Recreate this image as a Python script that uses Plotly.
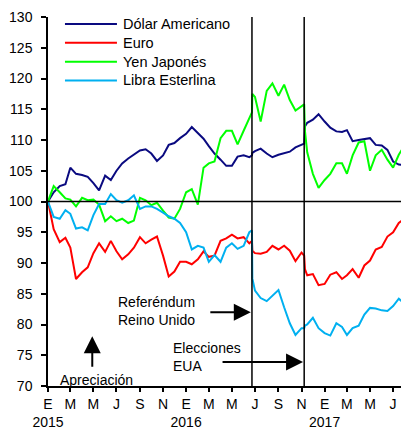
import plotly.graph_objects as go

# semi-monthly readings, plus the days around the two events
dates = [
    "2015-01-01", "2015-01-16", "2015-02-01", "2015-02-16", "2015-03-01", "2015-03-16",
    "2015-04-01", "2015-04-16", "2015-05-01", "2015-05-16", "2015-06-01", "2015-06-16",
    "2015-07-01", "2015-07-16", "2015-08-01", "2015-08-16", "2015-09-01", "2015-09-16",
    "2015-10-01", "2015-10-16", "2015-11-01", "2015-11-16", "2015-12-01", "2015-12-16",
    "2016-01-01", "2016-01-16", "2016-02-01", "2016-02-16", "2016-03-01", "2016-03-16",
    "2016-04-01", "2016-04-16", "2016-05-01", "2016-05-16", "2016-06-01", "2016-06-16",
    "2016-06-23", "2016-06-24",
    "2016-07-01", "2016-07-16", "2016-08-01", "2016-08-16", "2016-09-01", "2016-09-16",
    "2016-10-01", "2016-10-16", "2016-11-01",
    "2016-11-08", "2016-11-10",
    "2016-11-16", "2016-12-01", "2016-12-16",
    "2017-01-01", "2017-01-16", "2017-02-01", "2017-02-16", "2017-03-01", "2017-03-16",
    "2017-04-01", "2017-04-16", "2017-05-01", "2017-05-16", "2017-06-01", "2017-06-16",
    "2017-07-01", "2017-07-16", "2017-08-01", "2017-08-10",
]

dolar = [
    100, 101.5, 102.5, 102.8, 105.5, 104.5, 104.3, 104, 103, 101.8, 104.2, 103.5,
    105, 106.2, 107, 107.6, 108.3, 108.5, 107.8, 106.6, 107.5, 109.2, 109.5, 110.3,
    111, 112.1, 111.2, 110.2, 109, 107.8, 106.8, 105.8, 105.8, 107.3, 107.5, 107.2,
    107.5, 107.9,
    108.2, 108.6, 107.8, 107.2, 107.6, 107.8, 108.1, 108.8, 109.2,
    109.4, 112.2,
    112.8, 113.3, 114.2,
    113, 112, 111.4, 111.3, 111.6, 109.8, 110, 110.2, 110.3, 109.2, 109.1, 108.4,
    106.5, 106, 105.9, 105.9,
]
euro = [
    100, 95.5, 93.4, 94.1, 92.5, 87.4, 88.5, 89.3, 91.6, 93.2, 91.8, 93.6,
    91.9, 90.6, 91.4, 92.5, 94.2, 93.2, 93.8, 94.3, 91.2, 87.8, 88.6, 90.2,
    90.2, 89.8, 90.6, 91.9, 91, 91.2, 93.6, 94, 94.6, 94, 94.2, 93.2,
    93.6, 92,
    91.6, 91.5, 91.8, 92.8, 92.2, 92.8, 92, 90.3, 91.7,
    91.2, 89,
    88, 88.2, 86.4,
    86.6, 88.1, 88.5, 87.4, 88, 89, 87.6, 89.6, 90.4, 92.2, 92.6, 94.3,
    95, 96.5, 97.3, 96.9,
]
yen = [
    100, 102.5, 101.5, 100.5, 100.3, 99.2, 100.6, 100.2, 100.3, 99.5, 96.8, 97.6,
    96.8, 97.2, 96.5, 96.9, 100.6, 100.2, 99.4, 99.8, 98.5, 97.4, 97.2, 98.8,
    101.5, 102, 99.5, 105.5, 106.2, 106.5, 110.3, 111.5, 111.5, 109.3, 111.5, 113.5,
    114.5, 117.5,
    117, 113, 118, 119.2, 117.2, 119, 116.5, 114.8, 115.5,
    115.8, 111.5,
    108, 104.5, 102.2,
    103.5, 104.5, 106.2, 106.2, 104.5, 107.5, 109.6, 109.8, 105, 107.5, 108.4, 106.8,
    105.5, 107.6, 109.2, 109.6,
]
libra = [
    100, 97.5, 97.2, 98.6, 98, 95.6, 95.8, 95.3, 97.8, 99.6, 99.6, 101.2,
    100.2, 99.8, 100.2, 101, 98.8, 99.2, 99.2, 98.8, 98.2, 97.6, 97.2, 96.5,
    95, 92.2, 92.8, 92.5, 90.2, 91.3, 90.2, 92.5, 93.2, 92.3, 92.8, 95,
    95.3, 87.5,
    85.5, 84.3, 83.8, 84.6, 85.6, 82.8, 80.2, 78.3, 79.4,
    79.4, 79.8,
    80, 81.1, 79.4,
    78.6, 78.2, 80.2, 79.6, 78.3, 79.4, 79.8, 81.6, 82.7, 82.6, 82.3, 82.2,
    83, 84.2, 83.2, 82.8,
]

series = [
    ("Dólar Americano", dolar, "#0A0A80"),
    ("Euro", euro, "#FF0000"),
    ("Yen Japonés", yen, "#00FF00"),
    ("Libra Esterlina", libra, "#00B0F0"),
]

tick_dates = [
    "2015-01-01", "2015-03-01", "2015-05-01", "2015-07-01", "2015-09-01", "2015-11-01",
    "2016-01-01", "2016-03-01", "2016-05-01", "2016-07-01", "2016-09-01", "2016-11-01",
    "2017-01-01", "2017-03-01", "2017-05-01", "2017-07-01",
]
tick_text = [
    "E<br>2015", "M", "M", "J", "S", "N",
    "E<br>2016", "M", "M", "J", "S", "N",
    "E<br>2017", "M", "M", "J",
]

event_dates = ["2016-06-23", "2016-11-08"]

fig = go.Figure()
for name, vals, color in series:
    assert len(vals) == len(dates), name
    fig.add_trace(go.Scatter(x=dates, y=vals, mode="lines", name=name,
                             line=dict(color=color, width=2), showlegend=False))

# legend drawn by hand: plotly's own rows are spaced wider than the original
for i, (name, vals, color) in enumerate(series):
    ly = 0.981 - i * 0.051
    fig.add_shape(type="line", xref="paper", yref="paper", x0=0.047, x1=0.191,
                  y0=ly, y1=ly, line=dict(color=color, width=2))
    fig.add_annotation(text=name, xref="paper", yref="paper", x=0.203, y=ly,
                       xanchor="left", yanchor="middle", showarrow=False,
                       font=dict(size=14.5, color="black"))

# base line at 100 and the two event markers
fig.add_shape(type="line", xref="paper", x0=0, x1=1, yref="y", y0=100, y1=100,
              line=dict(color="black", width=1.5), layer="above")
for d in event_dates:
    fig.add_shape(type="line", xref="x", x0=d, x1=d, yref="paper", y0=0, y1=1,
                  line=dict(color="black", width=1.5), layer="above")

txt = dict(showarrow=False, xanchor="left", yanchor="middle", align="left",
           font=dict(size=14, color="black"))
fig.add_annotation(text="Referéndum<br>Reino Unido", xref="paper", yref="paper",
                   x=0.188, y=0.203, **txt)
fig.add_annotation(text="Elecciones<br>EUA", xref="paper", yref="paper",
                   x=0.341, y=0.079, **txt)
fig.add_annotation(text="Apreciación", xref="paper", yref="paper",
                   x=0.028, y=0.016, **txt)

arr = dict(text="", showarrow=True, arrowhead=2, arrowsize=1.7, arrowwidth=2,
           arrowcolor="black", axref="pixel", ayref="pixel")
fig.add_annotation(x="2016-06-20", y=82.0, ax=-42, ay=0, **arr)
fig.add_annotation(x="2016-11-05", y=73.9, ax=-82, ay=0, **arr)
fig.add_annotation(x="2015-04-28", y=78.1, ax=0, ay=32, **arr)

# the page body adds an 8px offset, so the figure is 8px smaller than the window
fig.update_layout(
    width=401, height=422,
    margin=dict(l=40, r=0, t=9, b=44, autoexpand=False),
    paper_bgcolor="white", plot_bgcolor="white",
    font=dict(family="Liberation Sans, Arial, sans-serif", size=14, color="black"),
    showlegend=False,
    xaxis=dict(range=["2015-01-01", "2017-08-12"], tickmode="array",
               tickvals=tick_dates, ticktext=tick_text, tickangle=0,
               showgrid=False, zeroline=False,
               showline=True, linecolor="black", linewidth=1.5, automargin=False,
               ticks="outside", ticklen=4, tickcolor="black", tickwidth=1.5,
               tickfont=dict(size=14)),
    yaxis=dict(range=[70, 130], dtick=5, showgrid=False, zeroline=False,
               showline=True, linecolor="black", linewidth=1.5, automargin=False,
               ticks="outside", ticklen=5, tickcolor="black", tickwidth=1.5,
               ticklabelstandoff=6, tickfont=dict(size=14)),
)

fig.write_html("out.html")
